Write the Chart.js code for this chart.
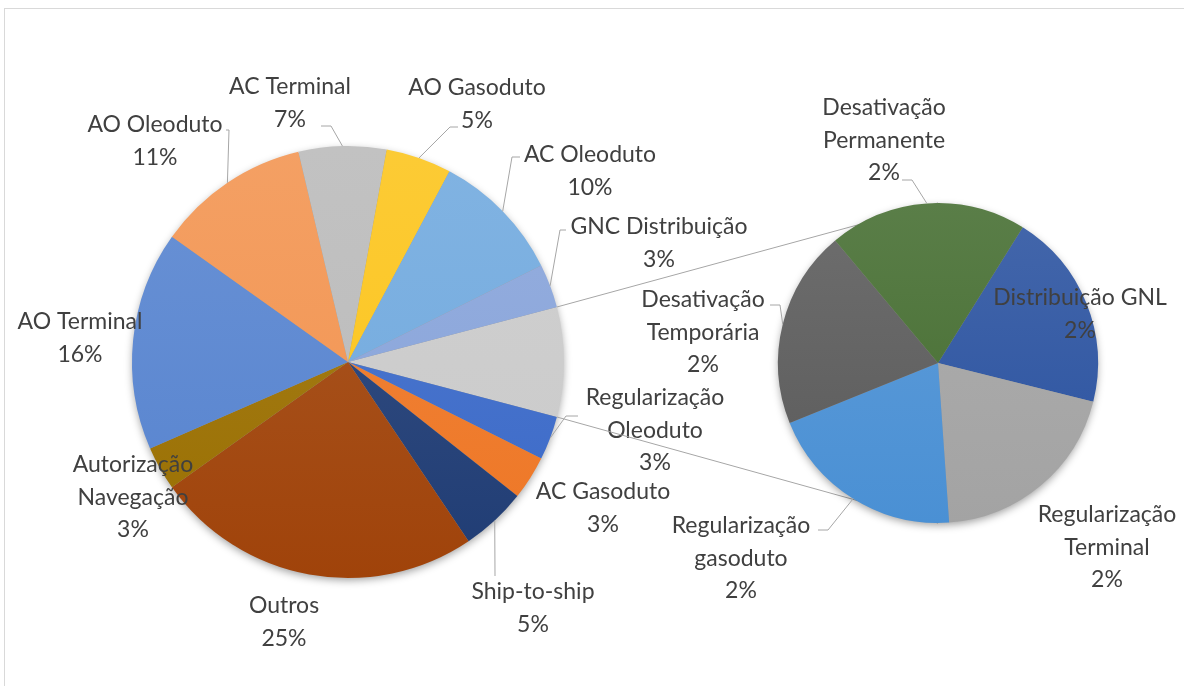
<!DOCTYPE html>
<html>
<head>
<meta charset="utf-8">
<script src="https://cdn.jsdelivr.net/npm/chart.js@4/dist/chart.umd.min.js"></script>
<style>
  html, body { margin: 0; padding: 0; background: #fff; }
  body { width: 1184px; height: 686px; position: relative; overflow: hidden; }
  #frame { position: absolute; left: 4px; top: 8px; width: 1300px; height: 800px; border: 1px solid #d9d9d9; }
  canvas { position: absolute; left: 0; top: 0; }
</style>
</head>
<body>
<div id="frame"></div>
<canvas id="main" width="1184" height="686"></canvas>
<canvas id="second" width="1184" height="686"></canvas>
<script>
// main pie, clockwise after the combined slice
const mainLabels = ['Regularização Oleoduto', 'AC Gasoduto', 'Ship-to-ship', 'Outros', 'Autorização Navegação',
  'AO Terminal', 'AO Oleoduto', 'AC Terminal', 'AO Gasoduto', 'AC Oleoduto', 'GNC Distribuição'];
const mainValues = [2, 2, 3, 15, 2, 10, 7, 4, 3, 6, 2];
const mainColors = ['#3a69c8', '#ee7624', '#1f3c74', '#a0430a', '#9a6f00',
  '#5683cf', '#f2934f', '#bababa', '#fcc41a', '#70a9de', '#87a3da'];

// second pie (the combined slice), clockwise
const secondLabels = ['Distribuição GNL', 'Regularização Terminal', 'Regularização gasoduto', 'Desativação Temporária', 'Desativação Permanente'];
const secondValues = [1, 1, 1, 1, 1];
const secondColors = ['#2a52a0', '#a3a3a3', '#4a90d4', '#5a5a5a', '#446c2f'];
const otherColor = '#cacaca';

const total = mainValues.reduce((a, b) => a + b, 0) + secondValues.reduce((a, b) => a + b, 0);

// label placement: x = text centre, y = first line centre, lead = [startX, startY, elbowX]
const mainLabelPos = [
  { x: 655, y: 398, wrap: true, lead: [578, 416, 566] },
  { x: 603, y: 492 },
  { x: 533, y: 592, lead: [495, 576, 495] },
  { x: 284, y: 606 },
  { x: 133, y: 465, wrap: true },
  { x: 80, y: 322 },
  { x: 155, y: 125, lead: [226, 130, 229] },
  { x: 290, y: 87, lead: [321, 126, 331] },
  { x: 477, y: 88, lead: [458, 127, 450] },
  { x: 590, y: 155, lead: [520, 157, 512] },
  { x: 659, y: 227, lead: [566, 230, 560] }
];
const secondLabelPos = [
  { x: 1080, y: 298 },
  { x: 1107, y: 515, wrap: true },
  { x: 741, y: 526, wrap: true, lead: [818, 530, 828] },
  { x: 703, y: 300, wrap: true, lead: [770, 305, 780] },
  { x: 884, y: 108, wrap: true, lead: [902, 180, 912] }
];

const FONT = '23px Lato';
const TEXT = '#404040';
const LINE = '#a6a6a6';

function mix(hex, amt) {
  const n = parseInt(hex.slice(1), 16);
  const r = n >> 16, g = (n >> 8) & 255, b = n & 255;
  const f = c => Math.round(c + (255 - c) * amt);
  return `rgb(${f(r)},${f(g)},${f(b)})`;
}

function gradientFill(colors) {
  return (ctx) => {
    const chart = ctx.chart;
    const area = chart.chartArea;
    const base = colors[ctx.dataIndex];
    if (!area) return base;
    const g = chart.ctx.createLinearGradient(0, area.top, 0, area.bottom);
    g.addColorStop(0, mix(base, 0.12));
    g.addColorStop(1, base);
    return g;
  };
}

const shadowPlugin = {
  id: 'shadow',
  beforeDatasetsDraw(chart) {
    const arc = chart.getDatasetMeta(0).data[0];
    const c = chart.ctx;
    c.save();
    c.shadowColor = 'rgba(0,0,0,0.4)';
    c.shadowBlur = 9;
    c.shadowOffsetY = 3;
    c.fillStyle = '#999';
    c.beginPath();
    c.arc(arc.x, arc.y, arc.outerRadius - 1, 0, Math.PI * 2);
    c.fill();
    c.restore();
  }
};

function labelPlugin(names, values, pos, offset) {
  return {
    id: 'labels',
    afterDraw(chart) {
      const c = chart.ctx;
      const arcs = chart.getDatasetMeta(0).data;
      c.save();
      c.font = FONT;
      c.fillStyle = TEXT;
      c.textAlign = 'center';
      c.textBaseline = 'middle';
      names.forEach((name, i) => {
        const p = pos[i];
        const arc = arcs[i + offset];
        if (p.lead) {
          const mid = (arc.startAngle + arc.endAngle) / 2;
          const ex = arc.x + Math.cos(mid) * arc.outerRadius;
          const ey = arc.y + Math.sin(mid) * arc.outerRadius;
          c.strokeStyle = LINE;
          c.lineWidth = 1;
          c.beginPath();
          c.moveTo(p.lead[0], p.lead[1]);
          c.lineTo(p.lead[2], p.lead[1]);
          c.lineTo(ex, ey);
          c.stroke();
        }
        let lines = [name];
        if (p.wrap) {
          const k = name.indexOf(' ');
          lines = [name.slice(0, k), name.slice(k + 1)];
        }
        lines.push(Math.round(values[i] / total * 100) + '%');
        lines.forEach((t, j) => c.fillText(t, p.x, p.y + j * 32.5));
      });
      c.restore();
    }
  };
}

const mainChart = new Chart(document.getElementById('main'), {
  type: 'pie',
  data: {
    labels: ['Outros (2º gráfico)', ...mainLabels],
    datasets: [{
      data: [secondValues.reduce((a, b) => a + b, 0), ...mainValues],
      backgroundColor: gradientFill([otherColor, ...mainColors]),
      borderWidth: 0
    }]
  },
  options: {
    responsive: false,
    animation: false,
    rotation: 90 - 360 * secondValues.reduce((a, b) => a + b, 0) / total / 2,
    layout: { padding: { left: 132, right: 620, top: 146, bottom: 108 } },
    plugins: { legend: { display: false }, tooltip: { enabled: false } }
  },
  plugins: [shadowPlugin, labelPlugin(mainLabels, mainValues, mainLabelPos, 1)]
});

// connector lines from the combined slice to the top and bottom of the second pie
const connectorPlugin = {
  id: 'connector',
  beforeDatasetsDraw(chart) {
    const src = mainChart.getDatasetMeta(0).data[0];
    const dst = chart.getDatasetMeta(0).data[0];
    const c = chart.ctx;
    c.save();
    c.strokeStyle = LINE;
    c.lineWidth = 1;
    c.beginPath();
    c.moveTo(src.x + Math.cos(src.startAngle) * src.outerRadius, src.y + Math.sin(src.startAngle) * src.outerRadius);
    c.lineTo(dst.x, dst.y - dst.outerRadius);
    c.moveTo(src.x + Math.cos(src.endAngle) * src.outerRadius, src.y + Math.sin(src.endAngle) * src.outerRadius);
    c.lineTo(dst.x, dst.y + dst.outerRadius);
    c.stroke();
    c.restore();
  }
};

new Chart(document.getElementById('second'), {
  type: 'pie',
  data: {
    labels: secondLabels,
    datasets: [{
      data: secondValues,
      backgroundColor: gradientFill(secondColors),
      borderWidth: 0
    }]
  },
  options: {
    responsive: false,
    animation: false,
    rotation: 32,
    layout: { padding: { left: 778, right: 86, top: 202, bottom: 162 } },
    plugins: { legend: { display: false }, tooltip: { enabled: false } }
  },
  plugins: [connectorPlugin, shadowPlugin, labelPlugin(secondLabels, secondValues, secondLabelPos, 0)]
});
</script>
</body>
</html>
